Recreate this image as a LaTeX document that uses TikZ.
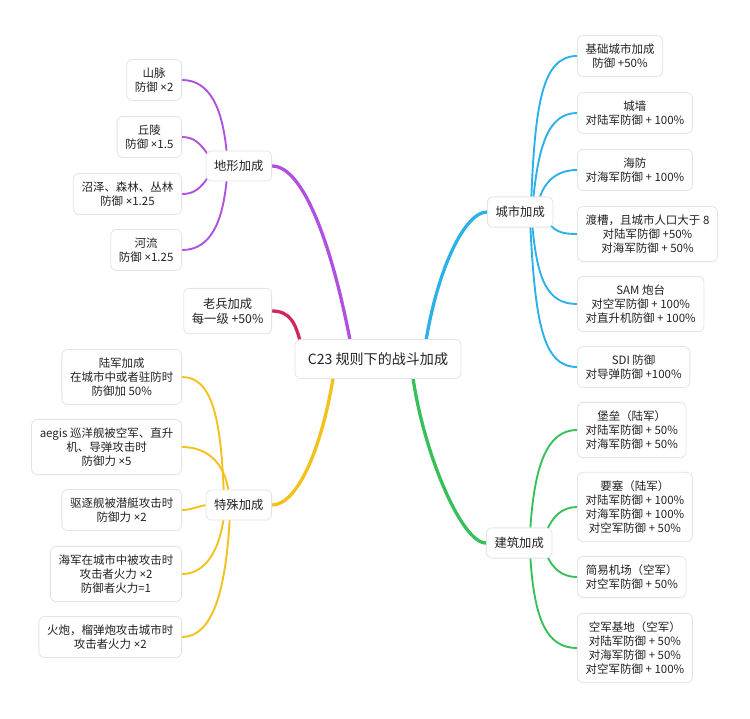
\documentclass[tikz,border=0pt]{standalone}
\usepackage{fontspec}
\setmainfont{Noto Sans CJK SC}
\newfontfamily\latinf{Noto Sans}
\newcommand{\tms}{{\latinf ×}}
\usepackage{xcolor}
\usepackage{tikz}
\usetikzlibrary{calc,backgrounds}
\definecolor{edge}{HTML}{E4E4E4}
\definecolor{ink}{HTML}{222222}
\definecolor{purp}{HTML}{B050E0}
\definecolor{rose}{HTML}{D1265F}
\definecolor{cyan}{HTML}{2CB0E8}
\definecolor{gold}{HTML}{F3C11A}
\definecolor{green}{HTML}{36C05A}
\tikzset{
  box/.style={draw=edge, line width=0.7pt, fill=white, rounded corners=5pt, text=ink, align=center},
  root/.style={box, font=\fontsize{12}{14}\selectfont, inner xsep=11pt, inner ysep=11pt},
  topic/.style={box, font=\fontsize{10.5}{13}\selectfont, inner xsep=7pt, inner ysep=8pt},
  leaf/.style={box, font=\fontsize{9.8}{12}\selectfont, inner xsep=7pt, inner ysep=7pt},
  linkP/.style={line width=1.6pt, draw=purp},
  linkR/.style={line width=1.6pt, draw=rose},
  linkC/.style={line width=1.6pt, draw=cyan},
  linkY/.style={line width=1.6pt, draw=gold},
  linkG/.style={line width=1.6pt, draw=green},
  trunk/.style={line width=2.8pt}
}
\begin{document}
\begin{tikzpicture}[x=0.03cm,y=-0.03cm]
  \useasboundingbox (0,0) rectangle (750,718);

  \node[root] (rt) at (378,359) {C23 规则下的战斗加成};

  \node[topic,anchor=east] (dx) at (272,166) {地形加成};
  \node[topic,anchor=east] (lb) at (272,311) {老兵加成\\每一级 +50\%};
  \node[topic,anchor=east] (ts) at (272,505) {特殊加成};
  \node[topic,anchor=west] (cs) at (487,212) {城市加成};
  \node[topic,anchor=west] (jz) at (486,543) {建筑加成};

  \node[leaf,anchor=east] (sm) at (182,80)  {山脉\\防御 \tms2};
  \node[leaf,anchor=east] (ql) at (182,137) {丘陵\\防御 \tms1.5};
  \node[leaf,anchor=east] (zz) at (182,194) {沼泽、森林、丛林\\防御 \tms1.25};
  \node[leaf,anchor=east] (hl) at (182,250) {河流\\防御 \tms1.25};

  \node[leaf,anchor=east] (lj) at (182,377) {陆军加成\\在城市中或者驻防时\\防御加 50\%};
  \node[leaf,anchor=east] (ae) at (182,447) {aegis 巡洋舰被空军、直升\\机、导弹攻击时\\防御力 \tms5};
  \node[leaf,anchor=east] (qz) at (182,510) {驱逐舰被潜艇攻击时\\防御力 \tms2};
  \node[leaf,anchor=east] (hj) at (182,574) {海军在城市中被攻击时\\攻击者火力 \tms2\\防御者火力=1};
  \node[leaf,anchor=east] (hp) at (182,637) {火炮，榴弹炮攻击城市时\\攻击者火力 \tms2};

  \node[leaf,anchor=west] (jc) at (577,56)  {基础城市加成\\防御 +50\%};
  \node[leaf,anchor=west] (cq) at (577,113) {城墙\\对陆军防御 + 100\%};
  \node[leaf,anchor=west] (hf) at (577,170) {海防\\对海军防御 + 100\%};
  \node[leaf,anchor=west] (dc) at (577,234) {渡槽，且城市人口大于 8\\对陆军防御 +50\%\\对海军防御 + 50\%};
  \node[leaf,anchor=west] (sam) at (577,304) {SAM 炮台\\对空军防御 + 100\%\\对直升机防御 + 100\%};
  \node[leaf,anchor=west] (sdi) at (577,367) {SDI 防御\\对导弹防御 +100\%};

  \node[leaf,anchor=west] (bl) at (577,430) {堡垒（陆军）\\对陆军防御 + 50\%\\对海军防御 + 50\%};
  \node[leaf,anchor=west] (ys) at (577,507) {要塞（陆军）\\对陆军防御 + 100\%\\对海军防御 + 100\%\\对空军防御 + 50\%};
  \node[leaf,anchor=west] (jy) at (577,577) {简易机场（空军）\\对空军防御 + 50\%};
  \node[leaf,anchor=west] (kj) at (577,648) {空军基地（空军）\\对陆军防御 + 50\%\\对海军防御 + 50\%\\对空军防御 + 100\%};

  \begin{scope}[on background layer]
    \fill[white] (0,0) rectangle (750,718);
    \draw[linkP,trunk] (dx.east) .. controls +(32,0) and +(-18,-95) .. ($(rt.north west)+(56,4)$);
    \draw[linkR,trunk] (lb.east) .. controls +(18,0) and +(-5,-20) .. ($(rt.north west)+(6,4)$);
    \draw[linkC,trunk] (cs.west) .. controls +(-22,0) and +(12,-75) .. ($(rt.north west)+(131,4)$);
    \draw[linkY,trunk] (ts.east) .. controls +(25,0) and +(-12,75) .. ($(rt.south west)+(39,-4)$);
    \draw[linkG,trunk] (jz.west) .. controls +(-25,0) and +(10,75) .. ($(rt.south west)+(118,-4)$);

    \draw[linkP] ($(dx.north)+(-12,3)$) .. controls +(-4,-45) and +(28,0) .. (sm.east);
    \draw[linkP] ($(dx.north west)+(3,5)$) .. controls +(-8,-12) and +(12,0) .. (ql.east);
    \draw[linkP] ($(dx.south west)+(3,-5)$) .. controls +(-8,12) and +(12,0) .. (zz.east);
    \draw[linkP] ($(dx.south)+(-12,-3)$) .. controls +(-4,45) and +(28,0) .. (hl.east);

    \draw[linkY] ($(ts.north)+(-15,3)$) .. controls +(-3,-75) and +(30,0) .. (lj.east);
    \draw[linkY] ($(ts.north)+(-10,3)$) .. controls +(-4,-30) and +(25,0) .. (ae.east);
    \draw[linkY] ($(ts.west)+(3,0)$) .. controls +(-8,0) and +(10,0) .. (qz.east);
    \draw[linkY] ($(ts.south)+(-15,-3)$) .. controls +(-4,30) and +(25,0) .. (hj.east);
    \draw[linkY] ($(ts.south)+(-9,-3)$) .. controls +(-4,75) and +(30,0) .. (hp.east);

    \draw[linkC] ($(cs.north)+(11,3)$) .. controls +(4,-95) and +(-35,0) .. (jc.west);
    \draw[linkC] ($(cs.north)+(13,3)$) .. controls +(5,-50) and +(-30,0) .. (cq.west);
    \draw[linkC] ($(cs.north)+(19,3)$) .. controls +(5,-18) and +(-20,0) .. (hf.west);
    \draw[linkC] ($(cs.south east)+(-4,-4)$) .. controls +(6,9) and +(-12,0) .. (dc.west);
    \draw[linkC] ($(cs.south)+(12,-3)$) .. controls +(5,55) and +(-30,0) .. (sam.west);
    \draw[linkC] ($(cs.south)+(10,-3)$) .. controls +(5,95) and +(-35,0) .. (sdi.west);

    \draw[linkG] ($(jz.north)+(11,3)$) .. controls +(4,-65) and +(-30,0) .. (bl.west);
    \draw[linkG] ($(jz.north east)+(-6,4)$) .. controls +(6,-15) and +(-15,0) .. (ys.west);
    \draw[linkG] ($(jz.south east)+(-6,-4)$) .. controls +(6,14) and +(-15,0) .. (jy.west);
    \draw[linkG] ($(jz.south)+(11,-3)$) .. controls +(4,65) and +(-30,0) .. (kj.west);
  \end{scope}
\end{tikzpicture}
\end{document}
